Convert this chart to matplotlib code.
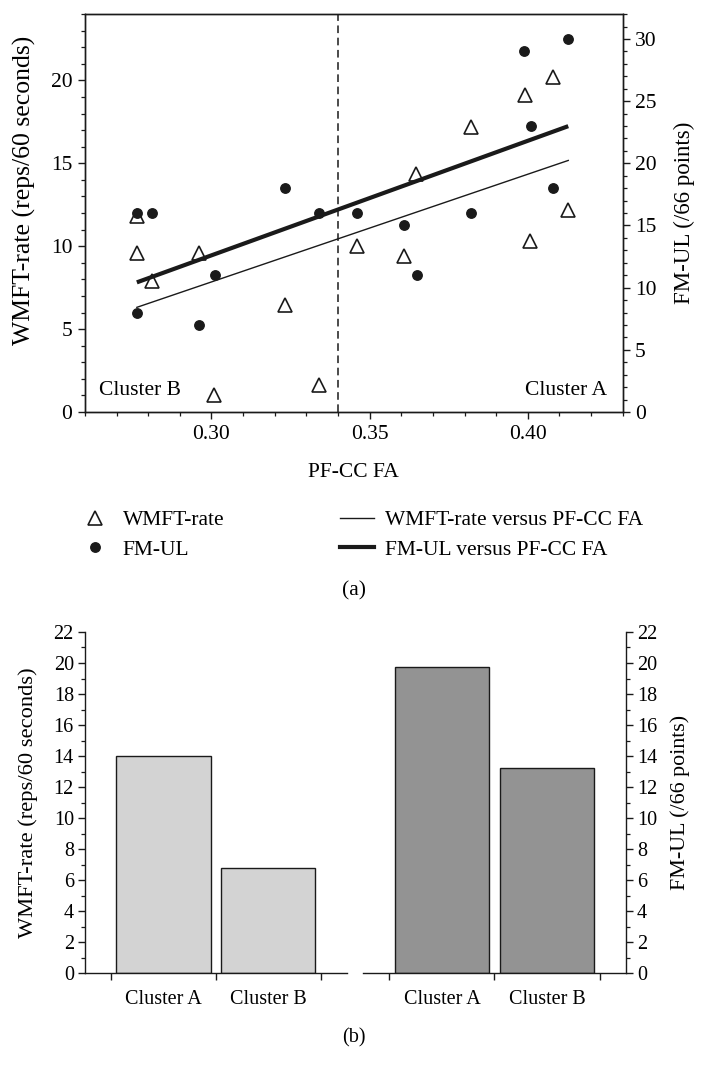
import numpy as np
import matplotlib.pyplot as plt
from matplotlib.lines import Line2D
from matplotlib.ticker import MultipleLocator, FixedLocator, NullFormatter

plt.rcParams['font.family'] = ['Liberation Serif', 'DejaVu Serif']

# (a) scatter data
fa_wmft = [0.2764, 0.2764, 0.2811, 0.2961, 0.3009, 0.3231, 0.3341, 0.3460,
           0.3610, 0.3647, 0.3819, 0.3990, 0.4008, 0.4079, 0.4128]
wmft = [11.8, 9.6, 7.9, 9.6, 1.0, 6.45, 1.6, 10.0, 9.4, 14.35, 17.2, 19.1, 10.3, 20.2, 12.2]
fa_fm = [0.2764, 0.2764, 0.2811, 0.2961, 0.3011, 0.3231, 0.3341, 0.3460,
         0.3610, 0.3650, 0.3819, 0.3987, 0.4009, 0.4079, 0.4128]
fm = [16, 8, 16, 7, 11, 18, 16, 16, 15, 11, 16, 29, 23, 18, 30]
split_fa = 0.34

# (b) bar data
clusters = ['Cluster A', 'Cluster B']
wmft_mean = [14.0, 6.8]
fm_mean = [19.75, 13.2]

ink = '#1a1a1a'
fig = plt.figure(figsize=(7.07, 10.82), dpi=100)

# ---------- (a) ----------
fs = 15.5
ax1 = fig.add_axes([0.1202, 0.6192, 0.7605, 0.3678])
ax2 = ax1.twinx()

ax1.plot(fa_wmft, wmft, ls='none', marker='^', ms=10.5, mfc='white', mec=ink, mew=1.2)
fx = np.array([min(fa_wmft), max(fa_wmft)])
k1 = np.polyfit(fa_wmft, wmft, 1)
ax1.plot(fx, np.polyval(k1, fx), color=ink, lw=1.0)
ax1.axvline(split_fa, color=ink, lw=1.1, ls=(0, (5, 3)))

ax2.plot(fa_fm, fm, ls='none', marker='o', ms=6.8, color=ink)
fx2 = np.array([min(fa_fm), max(fa_fm)])
k2 = np.polyfit(fa_fm, fm, 1)
ax2.plot(fx2, np.polyval(k2, fx2), color=ink, lw=3.0, solid_capstyle='butt')

ax1.set_xlim(0.26, 0.43)
ax1.set_ylim(0, 24)
ax2.set_ylim(0, 32)
ax1.xaxis.set_major_locator(FixedLocator([0.30, 0.35, 0.40]))
ax1.xaxis.set_minor_locator(MultipleLocator(0.01))
ax1.set_xticklabels(['0.30', '0.35', '0.40'])
ax1.yaxis.set_major_locator(MultipleLocator(5))
ax1.yaxis.set_minor_locator(MultipleLocator(1))
ax2.yaxis.set_major_locator(MultipleLocator(5))
ax2.yaxis.set_minor_locator(MultipleLocator(1))

for a in (ax1, ax2):
    for s in a.spines.values():
        s.set_color(ink)
        s.set_linewidth(1.0)
    a.tick_params(which='major', direction='out', length=5, width=1.0, color=ink,
                  labelsize=fs, pad=4)
    a.tick_params(which='minor', direction='out', length=3, width=0.9, color=ink)

ax1.set_xlabel('PF-CC FA', fontsize=fs, labelpad=14)
ax1.set_ylabel('WMFT-rate (reps/60 seconds)', fontsize=18.5)
ax1.yaxis.set_label_coords(-0.091, 0.558)
ax2.set_ylabel('FM-UL (/66 points)', fontsize=16.5, labelpad=12)

ax1.text(0.026, 0.055, 'Cluster B', transform=ax1.transAxes, fontsize=fs,
         ha='left', va='center')
ax1.text(0.971, 0.055, 'Cluster A', transform=ax1.transAxes, fontsize=fs,
         ha='right', va='center')

h_tri = Line2D([], [], ls='none', marker='^', ms=10.5, mfc='white', mec=ink, mew=1.2)
h_dot = Line2D([], [], ls='none', marker='o', ms=6.8, color=ink)
h_thin = Line2D([], [], color=ink, lw=1.0)
h_thick = Line2D([], [], color=ink, lw=3.0)
leg_kw = dict(loc='upper left', frameon=False, fontsize=fs, handlelength=1.6,
              handletextpad=0.5, borderpad=0, borderaxespad=0, labelspacing=0.45)
fig.legend([h_tri, h_dot], ['WMFT-rate', 'FM-UL'],
           bbox_to_anchor=(77.5 / 707, 1 - 510 / 1082), **leg_kw)
fig.legend([h_thin, h_thick], ['WMFT-rate versus PF-CC FA', 'FM-UL versus PF-CC FA'],
           bbox_to_anchor=(340 / 707, 1 - 510 / 1082), **leg_kw)
fig.text(354 / 707, 1 - 591 / 1082, '(a)', fontsize=fs, ha='center', va='center')

# ---------- (b) ----------
fs2 = 14.5
axL = fig.add_axes([0.1202, 0.1007, 0.3702, 0.3152])
axR = fig.add_axes([0.5134, 0.1007, 0.3720, 0.3152])
pos = np.arange(len(clusters))
axL.bar(pos, wmft_mean, width=0.9, color='#d3d3d3', edgecolor=ink, linewidth=1.0)
axR.bar(pos, fm_mean, width=0.9, color='#939393', edgecolor=ink, linewidth=1.0)

for a in (axL, axR):
    a.set_xlim(-0.75, 1.75)
    a.set_ylim(0, 22)
    a.spines['top'].set_visible(False)
    for s in a.spines.values():
        s.set_color(ink)
        s.set_linewidth(1.0)
    a.xaxis.set_major_locator(FixedLocator([-0.5, 0.5, 1.5]))
    a.xaxis.set_major_formatter(NullFormatter())
    a.xaxis.set_minor_locator(FixedLocator(pos))
    a.set_xticklabels(clusters, minor=True)
    a.tick_params(axis='x', which='major', direction='out', length=5, width=1.0, color=ink)
    a.tick_params(axis='x', which='minor', length=0, labelsize=fs2, pad=12)
    a.yaxis.set_major_locator(MultipleLocator(2))
    a.yaxis.set_minor_locator(MultipleLocator(1))
    a.tick_params(axis='y', which='major', direction='out', length=5, width=1.0,
                  color=ink, labelsize=fs2, pad=3)
    a.tick_params(axis='y', which='minor', direction='out', length=3, width=0.9, color=ink)

axL.spines['right'].set_visible(False)
axR.spines['left'].set_visible(False)
axR.yaxis.tick_right()
axR.yaxis.set_label_position('right')
axL.set_ylabel('WMFT-rate (reps/60 seconds)', fontsize=16.2, labelpad=11.5)
axR.set_ylabel('FM-UL (/66 points)', fontsize=15.8, labelpad=9)
fig.text(354 / 707, 1 - 1038 / 1082, '(b)', fontsize=fs2, ha='center', va='center')

fig.savefig('out.png', dpi=100)
